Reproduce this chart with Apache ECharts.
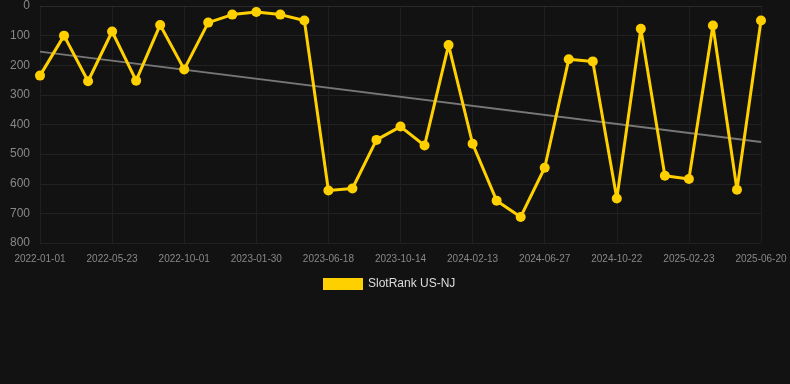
<!DOCTYPE html>
<html>
<head>
<meta charset="utf-8">
<script src="https://cdn.jsdelivr.net/npm/echarts@6/dist/echarts.min.js"></script>
<style>
html,body{margin:0;padding:0;background:#121212;}
#c{width:790px;height:384px;}
</style>
</head>
<body>
<div id="c"></div>
<script>
var categories = ['2022-01-01','2022-02-17','2022-04-05','2022-05-23','2022-07-06','2022-08-19','2022-10-01','2022-11-10','2022-12-20','2023-01-30','2023-03-17','2023-05-02','2023-06-18','2023-07-27','2023-09-04','2023-10-14','2023-11-24','2024-01-03','2024-02-13','2024-03-29','2024-05-13','2024-06-27','2024-08-04','2024-09-13','2024-10-22','2024-12-03','2025-01-12','2025-02-23','2025-04-01','2025-05-10','2025-06-20'];
var rankValues = [235,100,254,86,252,64,214,56,29,20,29,49,623,616,452,407,471,132,465,657,712,546,180,187,650,77,573,584,66,620,49];
var trendStart = 154;
var trendEnd = 459;
var seriesName = 'SlotRank US-NJ';

var trendData = categories.map(function(c,i){ return i===0 ? trendStart : (i===categories.length-1 ? trendEnd : null); });

var chart = echarts.init(document.getElementById('c'), null, {renderer:'canvas'});
chart.setOption({
  backgroundColor:'#121212',
  animation:false,
  grid:{left:40,right:29,top:6,bottom:141},
  legend:{
    show:true, top:273, left:318,
    itemWidth:40, itemHeight:12, itemGap:10,
    data:[{name:seriesName, icon:'rect'}],
    textStyle:{color:'#dddddd', fontSize:12, fontFamily:'Liberation Sans, Arial, sans-serif'}
  },
  xAxis:{
    type:'category', data:categories, boundaryGap:false,
    axisLine:{show:true, lineStyle:{color:'#2a2a2a'}},
    axisTick:{show:false},
    axisLabel:{interval:2, color:'#888888', fontSize:10, margin:11, fontFamily:'Liberation Sans, Arial, sans-serif'},
    splitLine:{show:true, interval:2, lineStyle:{color:'#1f1f1f', width:1}}
  },
  yAxis:{
    type:'value', inverse:true, min:0, max:800, interval:100,
    axisLine:{show:false}, axisTick:{show:false},
    axisLabel:{color:'#888888', fontSize:12, margin:10, fontFamily:'Liberation Sans, Arial, sans-serif'},
    splitLine:{show:true, lineStyle:{color:'#222222', width:1}}
  },
  series:[
    {
      name:seriesName, type:'line', data:rankValues,
      symbol:'circle', symbolSize:10,
      lineStyle:{color:'#FFD000', width:3},
      itemStyle:{color:'#FFD000'},
      z:3
    },
    {
      name:'trend', type:'line', data:trendData, connectNulls:true,
      symbol:'none', lineStyle:{color:'#777777', width:2},
      z:2, silent:true
    }
  ]
});
</script>
</body>
</html>
